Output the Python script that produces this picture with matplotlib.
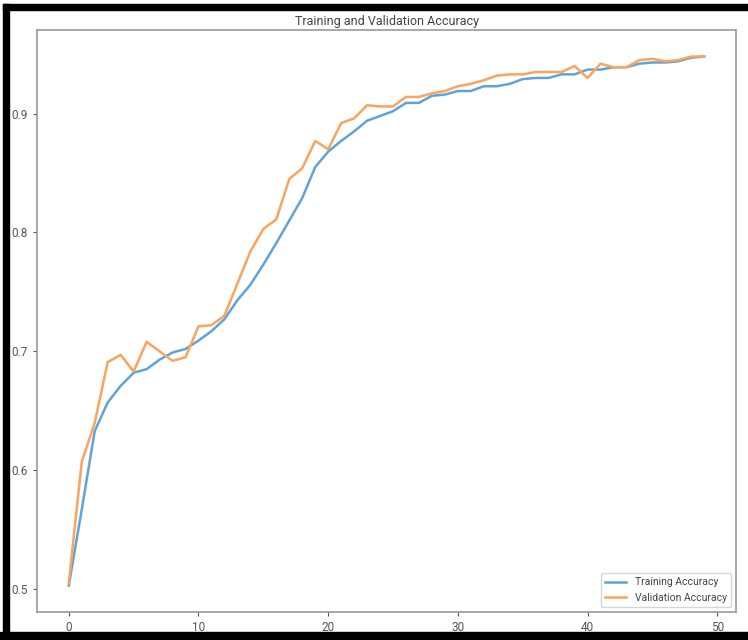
import numpy as np
import matplotlib
matplotlib.use("Agg")
import matplotlib.pyplot as plt
from matplotlib.patches import Rectangle

# Données (50 époques)
epochs = np.arange(50)
train_acc = [
    0.503, 0.567, 0.633, 0.657, 0.671, 0.682, 0.685, 0.693, 0.699, 0.702,
    0.709, 0.717, 0.727, 0.743, 0.756, 0.773, 0.791, 0.810, 0.829, 0.855,
    0.868, 0.877, 0.885, 0.894, 0.898, 0.902, 0.909, 0.909, 0.915, 0.916,
    0.919, 0.919, 0.923, 0.923, 0.925, 0.929, 0.930, 0.930, 0.933, 0.933,
    0.937, 0.937, 0.939, 0.939, 0.942, 0.943, 0.943, 0.944, 0.947, 0.948,
]
val_acc = [
    0.505, 0.607, 0.640, 0.691, 0.697, 0.683, 0.708, 0.700, 0.692, 0.695,
    0.721, 0.722, 0.730, 0.757, 0.784, 0.803, 0.811, 0.845, 0.854, 0.877,
    0.870, 0.892, 0.896, 0.907, 0.906, 0.906, 0.914, 0.914, 0.917, 0.919,
    0.923, 0.925, 0.928, 0.932, 0.933, 0.933, 0.935, 0.935, 0.935, 0.940,
    0.930, 0.942, 0.939, 0.939, 0.945, 0.946, 0.944, 0.945, 0.948, 0.948,
]

plt.rcParams["font.family"] = ["Roboto", "DejaVu Sans"]

fig = plt.figure(figsize=(7.48, 6.40), dpi=100)
ax = fig.add_axes([0.0495, 0.0438, 0.9345, 0.9092])

ax.plot(epochs, train_acc, color="#5fa3d8", lw=1.8, label="Training Accuracy")
ax.plot(epochs, val_acc, color="#fca35c", lw=1.8, label="Validation Accuracy")

ax.set_title("Training and Validation Accuracy", fontsize=9, color="#444444", pad=4)
ax.set_xticks([0, 10, 20, 30, 40, 50])
ax.set_yticks([0.5, 0.6, 0.7, 0.8, 0.9])
ax.tick_params(labelsize=8.5, colors="#555555", length=3)
for sp in ax.spines.values():
    sp.set_color("#9a9a9a")
    sp.set_linewidth(1.2)

leg = ax.legend(loc="lower right", fontsize=7.5, frameon=True)
for t in leg.get_texts():
    t.set_color("#444444")

# Cadre noir autour de l'image
fig.patches.append(Rectangle((3 / 748, 0), 6 / 748, 636 / 640, transform=fig.transFigure, color="black"))
fig.patches.append(Rectangle((3 / 748, 630 / 640), 745 / 748, 6 / 640, transform=fig.transFigure, color="black"))
fig.patches.append(Rectangle((0, 0), 1, 8 / 640, transform=fig.transFigure, color="black"))

fig.savefig("out.png", dpi=100)
